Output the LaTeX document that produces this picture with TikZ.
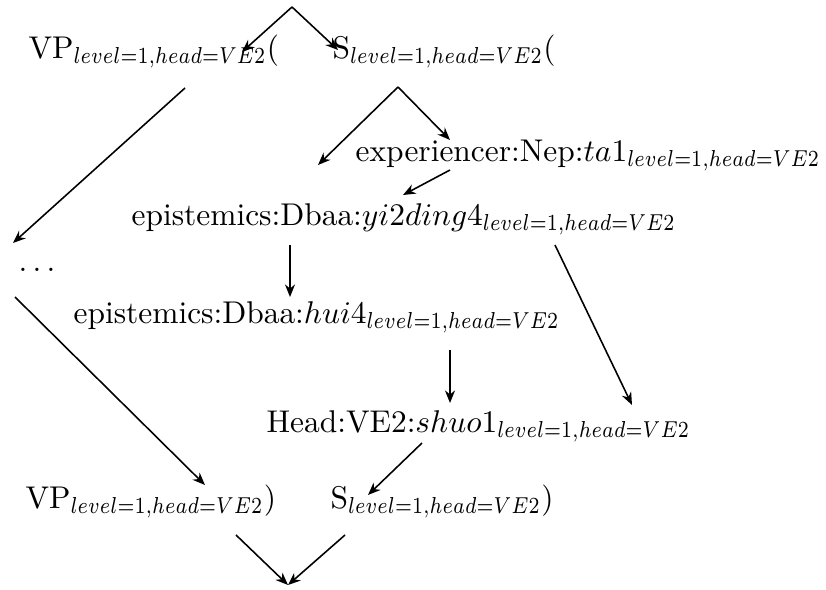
\documentclass[tikz,border=0pt]{standalone}
\usepackage{amsmath}
\usepackage{tikz}
\usetikzlibrary{arrows.meta, calc}
\tikzset{
  lbl/.style={inner sep=0pt, anchor=base west, font=\normalsize},
  arr/.style={-{Stealth[length=4pt, width=3.2pt]}, line width=0.5pt},
}
\newcommand{\lh}{_{\scalebox{0.88}[1.05]{$\scriptstyle level=1,head=VE2$}}}

\begin{document}
\begin{tikzpicture}[x=0.01118cm, y=-0.01118cm]
  \useasboundingbox (0,0) rectangle (826,590);

  \coordinate (top) at (292,7);
  \coordinate (bot) at (288,585);

  \node[lbl] (vpo)  at (28,58)   {VP$\lh$(};
  \node[lbl] (so)   at (332,58)  {S$\lh$(};
  \node[lbl] (exp)  at (355,161) {experiencer:Nep:$ta1\lh$};
  \node[lbl] (yid)  at (131,225) {epistemics:Dbaa:$yi2ding4\lh$};
  \node[lbl] (dots) at (18,271)  {$\ldots$};
  \node[lbl] (hui)  at (73,323)  {epistemics:Dbaa:$hui4\lh$};
  \node[lbl] (shuo) at (266,432) {Head:VE2:$shuo1\lh$};
  \node[lbl] (vpc)  at (25,508)  {VP$\lh$)};
  \node[lbl] (sc)   at (330,508) {S$\lh$)};

  % opening brackets
  \draw[arr] (top) -- ($(vpo.base west)+(214,-6)$);
  \draw[arr] (top) -- ($(so.base west)+(6,-8)$);
  \draw[arr] ($(vpo.base west)+(157,30)$) -- ($(dots.base west)+(-5,-28)$);
  \draw[arr] ($(so.base west)+(66,29)$) -- ($(yid.base west)+(187,-60)$);
  \draw[arr] ($(so.base west)+(66,29)$) -- ($(exp.base west)+(95,-21)$);

  % words
  \draw[arr] ($(exp.base west)+(95,9)$) -- ($(yid.base west)+(272,-30)$);
  \draw[arr] ($(yid.base west)+(159,20)$) -- ($(hui.base west)+(217,-26)$);
  \draw[arr] ($(yid.base west)+(424,20)$) -- ($(shuo.base west)+(366,-27)$);
  \draw[arr] ($(hui.base west)+(377,27)$) -- ($(shuo.base west)+(184,-29)$);

  % closing brackets
  \draw[arr] ($(dots.base west)+(-3,26)$) -- ($(vpc.base west)+(180,-23)$);
  \draw[arr] ($(shuo.base west)+(156,11)$) -- ($(sc.base west)+(38,-13)$);
  \draw[arr] ($(vpc.base west)+(211,27)$) -- (bot);
  \draw[arr] ($(sc.base west)+(15,27)$) -- (bot);
\end{tikzpicture}
\end{document}
